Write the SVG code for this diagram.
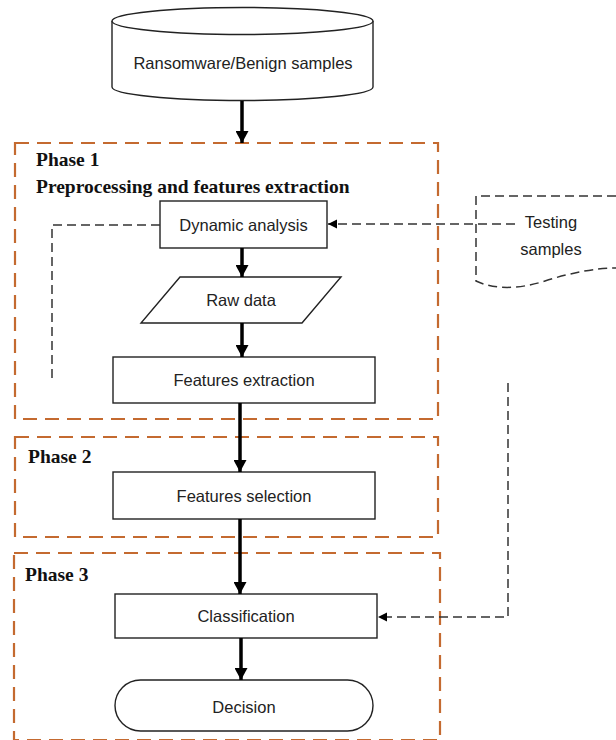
<svg xmlns="http://www.w3.org/2000/svg" width="616" height="740" viewBox="0 0 616 740">
<style>
.node{fill:#fff;stroke:#222;stroke-width:1.4}
.lbl{font-family:"Liberation Sans",Arial,sans-serif;font-size:16.5px;fill:#222;text-anchor:middle;dominant-baseline:central}
.phase{fill:none;stroke:#c46a30;stroke-width:2.2;stroke-dasharray:14 8}
.ptxt{font-family:"Liberation Serif","Times New Roman",serif;font-weight:bold;font-size:19.5px;fill:#111}
.flow{stroke:#000;stroke-width:3.5;fill:none}
.dash{stroke:#333;stroke-width:1.5;fill:none;stroke-dasharray:9 5}
</style>
<defs>
<marker id="ah" markerUnits="userSpaceOnUse" markerWidth="13" markerHeight="13" refX="12" refY="6.5" orient="auto"><path d="M0,0 L12,6.5 L0,13 Z" fill="#000"/></marker>
<marker id="ahs" markerUnits="userSpaceOnUse" markerWidth="10" markerHeight="10" refX="9" refY="4.5" orient="auto"><path d="M0,0 L9,4.5 L0,9 Z" fill="#000"/></marker>
</defs>
<g id="phases">
<g id="phase1"><rect class="phase" x="15" y="143" width="423" height="276"/><text class="ptxt" x="36" y="166">Phase 1</text><text class="ptxt" x="36" y="193">Preprocessing and features extraction</text></g>
<g id="phase2"><rect class="phase" x="15" y="437" width="423" height="100"/><text class="ptxt" x="28" y="463">Phase 2</text></g>
<g id="phase3"><rect class="phase" x="14" y="553" width="426" height="187"/><text class="ptxt" x="25" y="581">Phase 3</text></g>
</g>
<g id="samples"><path class="node" d="M112,21 A130.5,13.5 0 0 1 373,21 L373,87 A130.5,13.5 0 0 1 112,87 Z"/><path class="node" fill="none" d="M112,21 A130.5,13.5 0 0 0 373,21"/><text class="lbl" x="243" y="63">Ransomware/Benign samples</text></g>
<g id="dynamic"><rect class="node" x="160" y="201" width="167" height="47"/><text class="lbl" x="243.5" y="225">Dynamic analysis</text></g>
<g id="rawdata"><polygon class="node" points="180,277 341,277 302,323 141,323"/><text class="lbl" x="241" y="300">Raw data</text></g>
<g id="extraction"><rect class="node" x="113" y="357" width="262" height="46"/><text class="lbl" x="244" y="380">Features extraction</text></g>
<g id="selection"><rect class="node" x="113" y="472" width="262" height="47"/><text class="lbl" x="244" y="496">Features selection</text></g>
<g id="classification"><rect class="node" x="115" y="594" width="262" height="44"/><text class="lbl" x="246" y="616">Classification</text></g>
<g id="decision"><rect class="node" x="115" y="680" width="258" height="51" rx="25.5" ry="25.5"/><text class="lbl" x="244" y="707">Decision</text></g>
<g id="testing"><path class="dash" d="M616,196 L476,196 L476,281 C495,290 520,289 545,281 C570,273 595,268 616,268"/><text class="lbl" x="551" y="222">Testing</text><text class="lbl" x="551" y="249">samples</text></g>
<g id="connectors">
<line class="flow" x1="242" y1="101" x2="242" y2="143" marker-end="url(#ah)"/>
<line class="flow" x1="242" y1="248" x2="242" y2="277" marker-end="url(#ah)"/>
<line class="flow" x1="242" y1="323" x2="242" y2="357" marker-end="url(#ah)"/>
<line class="flow" x1="240" y1="403" x2="240" y2="472" marker-end="url(#ah)"/>
<line class="flow" x1="240" y1="519" x2="240" y2="594" marker-end="url(#ah)"/>
<line class="flow" x1="241" y1="638" x2="241" y2="680" marker-end="url(#ah)"/>
<path class="dash" d="M515,224 L328,224" marker-end="url(#ahs)"/>
<path class="dash" d="M160,225 L52,225 L52,378"/>
<path class="dash" d="M508,383 L508,617 L378,617" marker-end="url(#ahs)"/>
</g>
</svg>
